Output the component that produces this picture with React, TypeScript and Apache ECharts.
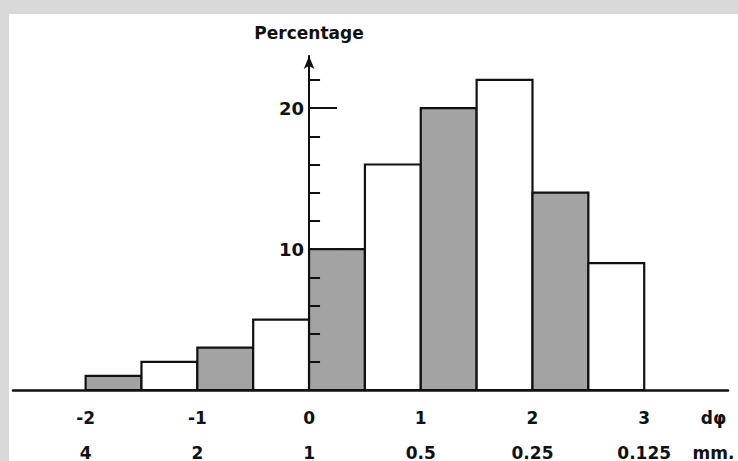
import React, { useEffect, useRef } from "react";
import * as echarts from "echarts";

// Histogram bins in phi units
const binStarts = [-2, -1.5, -1, -0.5, 0, 0.5, 1, 1.5, 2, 2.5];
const binEnds = [-1.5, -1, -0.5, 0, 0.5, 1, 1.5, 2, 2.5, 3];
const percentages = [1, 2, 3, 5, 10, 16, 20, 22, 14, 9];
const shaded = [1, 0, 1, 0, 1, 0, 1, 0, 1, 0];

// Axis labels
const phiTicks = [-2, -1, 0, 1, 2, 3];
const phiLabels = ["-2", "-1", "0", "1", "2", "3"];
const mmLabels = ["4", "2", "1", "0.5", "0.25", "0.125"];
const unitPos = 3.62;
const phiUnit = "dφ";
const mmUnit = "mm.";
const yTitle = "Percentage";
const yMajorTicks = [10, 20];
const yMinorTicks = [2, 4, 6, 8, 12, 14, 16, 18, 22];

const FONT = "DejaVu Sans";
const X_MIN = -2.65;
const X_MAX = 3.75;
const GRID_LEFT = 13;
const GRID_RIGHT = 10;
const W = 738;
const H = 461;

export default function App() {
  const ref = useRef<HTMLDivElement>(null);
  useEffect(() => {
    if (!ref.current) return;
    const chart = echarts.init(ref.current, undefined, { renderer: "svg" });
    const data = binStarts.map((s, i) => [s, binEnds[i], percentages[i], shaded[i]]);
    const labelMap: Record<string, string> = {};
    phiTicks.forEach((t, i) => {
      labelMap[String(t)] = phiLabels[i] + "\n" + mmLabels[i];
    });
    labelMap[String(unitPos)] = phiUnit + "\n" + mmUnit;
    const gridW = W - GRID_LEFT - GRID_RIGHT;
    const zeroOffset = -((0 - X_MIN) / (X_MAX - X_MIN)) * gridW;
    const option: any = {
      animation: false,
      backgroundColor: "#ffffff",
      grid: {
        left: GRID_LEFT,
        right: GRID_RIGHT,
        top: 56,
        bottom: 71,
        containLabel: false,
        outerBoundsMode: "none",
      },
      xAxis: {
        type: "value",
        min: X_MIN,
        max: X_MAX,
        axisLine: { show: true, onZero: false, lineStyle: { color: "#111", width: 2.5 } },
        axisTick: { show: false },
        splitLine: { show: false },
        axisLabel: {
          customValues: [...phiTicks, unitPos],
          formatter: (v: number) => labelMap[String(v)] ?? "",
          fontFamily: FONT,
          fontWeight: "bold",
          fontSize: 17,
          color: "#111",
          lineHeight: 35,
          margin: 10,
        },
      },
      yAxis: [
        {
          type: "value",
          min: 0,
          max: 23.7,
          position: "left",
          offset: zeroOffset,
          z: 5,
          name: yTitle,
          nameLocation: "end",
          nameGap: 15,
          nameTextStyle: {
            fontFamily: FONT,
            fontWeight: "bold",
            fontSize: 17,
            color: "#111",
            align: "center",
          },
          axisLine: {
            show: true,
            onZero: false,
            symbol: ["none", "arrow"],
            symbolSize: [8, 13],
            lineStyle: { color: "#111", width: 2 },
          },
          axisTick: {
            show: true,
            inside: true,
            length: 28,
            customValues: yMajorTicks,
            lineStyle: { color: "#111", width: 2 },
          },
          axisLabel: {
            customValues: yMajorTicks,
            fontFamily: FONT,
            fontWeight: "bold",
            fontSize: 18,
            color: "#111",
            margin: 5,
          },
          splitLine: { show: false },
        },
        {
          type: "value",
          min: 0,
          max: 23.7,
          position: "left",
          offset: zeroOffset,
          z: 5,
          axisLine: { show: false, onZero: false },
          axisTick: {
            show: true,
            inside: true,
            length: 11,
            customValues: yMinorTicks,
            lineStyle: { color: "#111", width: 2 },
          },
          axisLabel: { show: false },
          splitLine: { show: false },
        },
      ],
      graphic: [
        { type: "rect", left: 0, top: 0, shape: { width: W, height: 14 }, style: { fill: "#d9d9d9" }, z: 100 },
        { type: "rect", left: 0, top: 0, shape: { width: 9, height: H }, style: { fill: "#d9d9d9" }, z: 100 },
      ],
      series: [
        {
          type: "custom",
          coordinateSystem: "cartesian2d",
          z: 2,
          encode: { x: [0, 1], y: 2 },
          data,
          renderItem: (params: any, api: any) => {
            const x0 = api.value(0);
            const x1 = api.value(1);
            const v = api.value(2);
            const s = api.value(3);
            const p0 = api.coord([x0, v]);
            const p1 = api.coord([x1, 0]);
            return {
              type: "rect",
              shape: { x: p0[0], y: p0[1], width: p1[0] - p0[0], height: p1[1] - p0[1] },
              style: { fill: s ? "#a3a3a3" : "#ffffff", stroke: "#111", lineWidth: 2.2 },
            };
          },
        },
      ],
    };
    chart.setOption(option);
    return () => chart.dispose();
  }, []);
  return (
    <div
      ref={ref}
      style={{ position: "absolute", left: 0, top: 0, width: W, height: H }}
    />
  );
}
